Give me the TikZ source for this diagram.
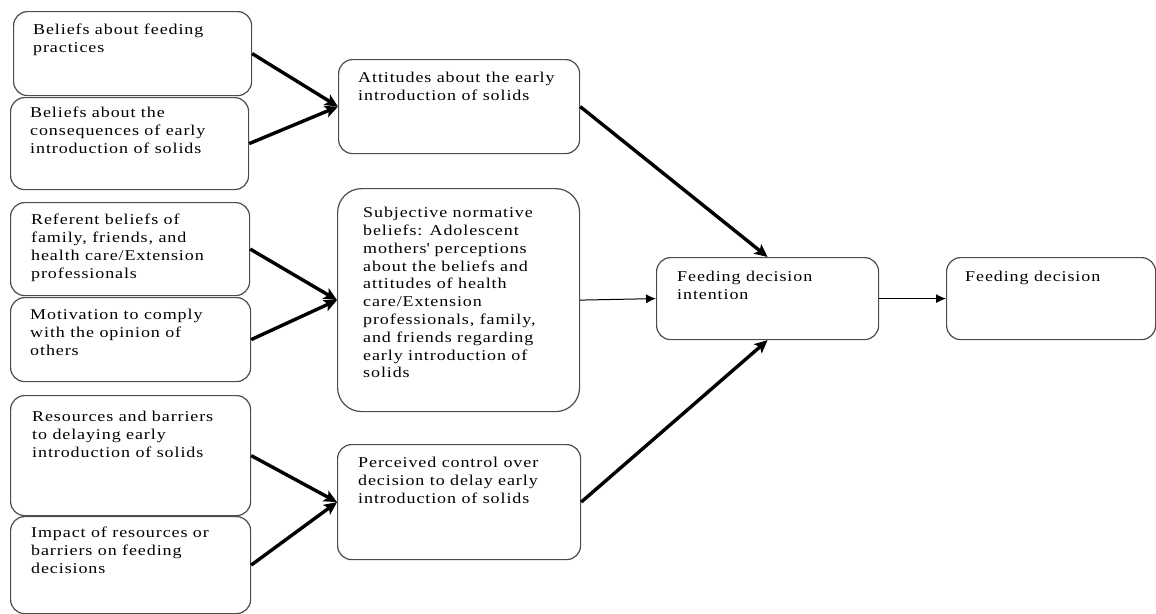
\documentclass[tikz,border=0pt]{standalone}
\usepackage{fontspec}
\setmainfont[FakeStretch=1.2,LetterSpace=6]{Liberation Serif}
\usetikzlibrary{arrows.meta}
\tikzset{
  card/.style={draw=black!70, line width=1.2pt, rounded corners=14pt, anchor=north west, inner sep=0pt, fill=white},
  cardbig/.style={card, rounded corners=24pt},
  caption/.style={anchor=north west, inner sep=0pt, align=left, font=\fontsize{15}{17.8}\selectfont, text=black},
  heavy/.style={line width=3.4pt, -{Stealth[length=13pt,width=12pt,inset=3pt]}},
  light/.style={line width=1pt, -{Latex[length=10pt,width=9pt]}},
}
\begin{document}
\begin{tikzpicture}[x=1pt,y=-1pt]
\useasboundingbox (0,0) rectangle (1156,613);

% left column: antecedent beliefs
\node[card, minimum width=238pt, minimum height=84pt] (b1) at (13,11) {};
\node[card, minimum width=238pt, minimum height=92pt] (b2) at (10,97) {};
\node[card, minimum width=239pt, minimum height=93pt] (b3) at (10,202) {};
\node[card, minimum width=240pt, minimum height=84pt] (b4) at (10,297) {};
\node[card, minimum width=240pt, minimum height=120pt] (b5) at (10,395) {};
\node[card, minimum width=240pt, minimum height=97pt] (b6) at (10,516) {};

\node[caption] (t1) at (33,24) {Beliefs about feeding\\practices};
\node[caption] (t2) at (30,107) {Beliefs about the\\consequences of early\\introduction of solids};
\node[caption] (t3) at (31,214) {Referent beliefs of\\family, friends, and\\health care/Extension\\professionals};
\node[caption] (t4) at (30,309) {Motivation to comply\\with the opinion of\\others};
\node[caption] (t5) at (32,411) {Resources and barriers\\to delaying early\\introduction of solids};
\node[caption] (t6) at (31,527) {Impact of resources or\\barriers on feeding\\decisions};

% middle column: attitudes, norms, control
\node[card, minimum width=241pt, minimum height=94pt] (att) at (338,59) {};
\node[cardbig, minimum width=242pt, minimum height=223pt] (sub) at (337,188) {};
\node[card, minimum width=243pt, minimum height=115pt] (per) at (337,444) {};

\node[caption] (tatt) at (358,72) {Attitudes about the early\\introduction of solids};
\node[caption] (tsub) at (363,207) {Subjective normative\\beliefs: Adolescent\\mothers\textquotesingle\ perceptions\\about the beliefs and\\attitudes of health\\care/Extension\\professionals, family,\\and friends regarding\\early introduction of\\solids};
\node[caption] (tper) at (358,457) {Perceived control over\\decision to delay early\\introduction of solids};

% right: intention and decision
\node[card, minimum width=222pt, minimum height=82pt] (fdi) at (656,257) {};
\node[card, minimum width=209pt, minimum height=82pt] (fd) at (946,257) {};
\node[caption] (tfdi) at (677,271) {Feeding decision\\intention};
\node[caption] (tfd) at (965,271) {Feeding decision};

% connectors
\draw[heavy] (b1.east) -- (att.west);
\draw[heavy] (b2.east) -- (att.west);
\draw[heavy] (b3.east) -- (sub.west);
\draw[heavy] (b4.east) -- (sub.west);
\draw[heavy] (b5.east) -- (per.west);
\draw[heavy] (b6.east) -- (per.west);
\draw[heavy] (att.east) -- (fdi.north);
\draw[light] (sub.east) -- (fdi.west);
\draw[heavy] (per.east) -- (fdi.south);
\draw[light] (fdi.east) -- (fd.west);
\end{tikzpicture}
\end{document}
